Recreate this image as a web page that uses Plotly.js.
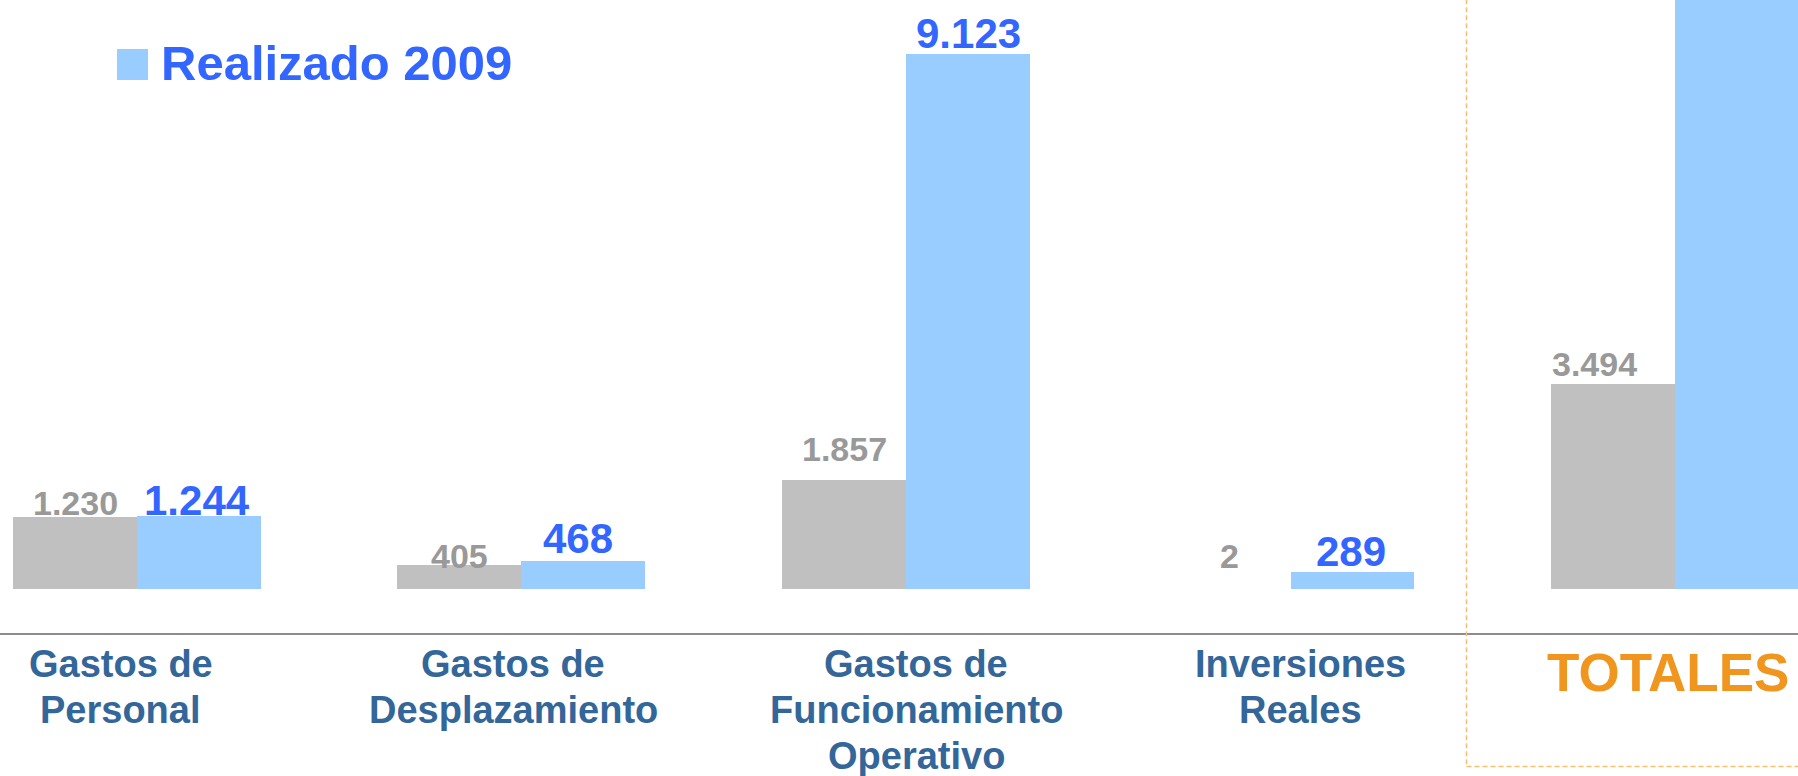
<!DOCTYPE html>
<html><head><meta charset="utf-8">
<script src="https://cdn.plot.ly/plotly-3.0.1.min.js"></script>
<style>html,body{margin:0;padding:0;background:#fff;overflow:hidden}#chart{width:1798px;height:776px}</style>
</head><body><div id="chart"></div>
<script>
// ---------------- data ----------------
const categories = ['Gastos de<br>Personal', 'Gastos de<br>Desplazamiento', 'Gastos de<br>Funcionamiento<br>Operativo', 'Inversiones<br>Reales', 'TOTALES'];
const seriesNames = ['Presupuesto 2009', 'Realizado 2009'];
const presupuesto = [1230, 405, 1857, 2, 3494];
const realizado = [1244, 468, 9123, 289, 11124];

// ---------------- layout / style ----------------
const W = 1798, H = 776, PLOT_BOTTOM = 634;
const FONT = 'Liberation Sans, Arial, sans-serif';
const seriesValues = [presupuesto, realizado];
const barColors = ['#C0C0C0', '#99CCFF'];
const labelColors = ['#999999', '#3366FF'];
const labelSizes = [34, 42];
const labelGap = 4;
// per-label manual nudges of the original slide ([series][category] -> [dx, dy] in px, dy up)
const labelNudge = [
  [[0, -2], [0, -7], [0, 15.5], [0, 16.5], [-18, 4.5]],
  [[-2, -3], [-5, 4], [0, 1.5], [-2, 2], [0, 0]]
];
const groupPx = [[13, 261], [397, 645], [782, 1030], [1168, 1414], [1551, 1799]];
const catLabelX = [121, 513, 916, 1300, 1668];
const catLabelFirstCapCenter = [663.5, 663.5, 663.5, 663.5, 672.5];
const catLabelSize = [38, 38, 38, 38, 53];
const catLabelColor = ['#336699', '#336699', '#336699', '#336699', '#F0961E'];
const catLineStep = 46;
const yRange = [-772, 10039];

const px2paperX = p => Math.min(1, p / W);
const px2paperY = p => (PLOT_BOTTOM - p) / PLOT_BOTTOM;
const fmt = v => String(v).replace(/\B(?=(\d{3})+(?!\d))/g, '.');

const traces = [];
const annotations = [];
const layout = {
  width: W, height: H,
  margin: {l: 0, r: 0, t: 0, b: H - PLOT_BOTTOM, pad: 0},
  paper_bgcolor: '#ffffff', plot_bgcolor: 'rgba(0,0,0,0)',
  barmode: 'group', bargap: 0, bargroupgap: 0,
  showlegend: false,
  font: {family: FONT},
  yaxis: {range: yRange, visible: false, showgrid: false, zeroline: false, fixedrange: true, anchor: 'x'},
  annotations: annotations,
  shapes: []
};

categories.forEach((cat, i) => {
  const axName = i === 0 ? 'x' : 'x' + (i + 1);
  const layoutKey = i === 0 ? 'xaxis' : 'xaxis' + (i + 1);
  layout[layoutKey] = {
    type: 'category', domain: [px2paperX(groupPx[i][0]), px2paperX(groupPx[i][1])],
    range: [-0.5, 0.5], visible: false, showgrid: false, zeroline: false,
    anchor: 'y', fixedrange: true
  };
  seriesValues.forEach((vals, s) => {
    traces.push({
      type: 'bar', name: seriesNames[s], x: [cat], y: [vals[i]],
      xaxis: axName, yaxis: 'y',
      marker: {color: barColors[s], line: {width: 0}},
      cliponaxis: true, showlegend: false
    });
    const fs = labelSizes[s];
    const nudge = labelNudge[s][i];
    annotations.push({
      xref: axName, yref: 'y',
      x: -0.5 + (s + 0.5) / seriesValues.length, y: vals[i],
      text: fmt(vals[i]), showarrow: false,
      xanchor: 'center', yanchor: 'bottom',
      xshift: nudge[0],
      yshift: -(0.212 * fs + 2) + labelGap + nudge[1],
      font: {family: FONT, size: fs, color: labelColors[s], weight: 700}
    });
  });
  // category label, one annotation per line
  cat.split('<br>').forEach((line, j) => {
    annotations.push({
      xref: 'paper', yref: 'paper',
      x: catLabelX[i] / W, y: px2paperY(catLabelFirstCapCenter[i] + j * catLineStep),
      text: line, showarrow: false, xanchor: 'center', yanchor: 'middle',
      font: {family: FONT, size: catLabelSize[i], color: catLabelColor[i], weight: 700}
    });
  });
});

// legend (only the "Realizado" entry is visible)
layout.shapes.push({
  type: 'rect', xref: 'paper', yref: 'paper', layer: 'above',
  x0: 117 / W, x1: 148 / W, y0: px2paperY(80), y1: px2paperY(49),
  fillcolor: barColors[1], line: {width: 0}
});
annotations.push({
  xref: 'paper', yref: 'paper', x: 159 / W, y: px2paperY(62.5),
  text: seriesNames[1], showarrow: false, xanchor: 'left', yanchor: 'middle',
  font: {family: FONT, size: 49, color: '#3366FF', weight: 700}
});

// axis line
layout.shapes.push({
  type: 'line', xref: 'paper', yref: 'paper', x0: 0, x1: 1, y0: 0, y1: 0,
  line: {color: '#8C8C8C', width: 2}
});
// dashed totals box
layout.shapes.push({
  type: 'rect', xref: 'paper', yref: 'paper',
  x0: 1466.5 / W, x1: 1.05, y0: px2paperY(766.5), y1: 1.05,
  fillcolor: 'rgba(0,0,0,0)',
  line: {color: '#F7BE6E', width: 1.5, dash: '5px,3px'}
});

Plotly.newPlot('chart', traces, layout, {staticPlot: true, displayModeBar: false});
</script>
</body></html>
